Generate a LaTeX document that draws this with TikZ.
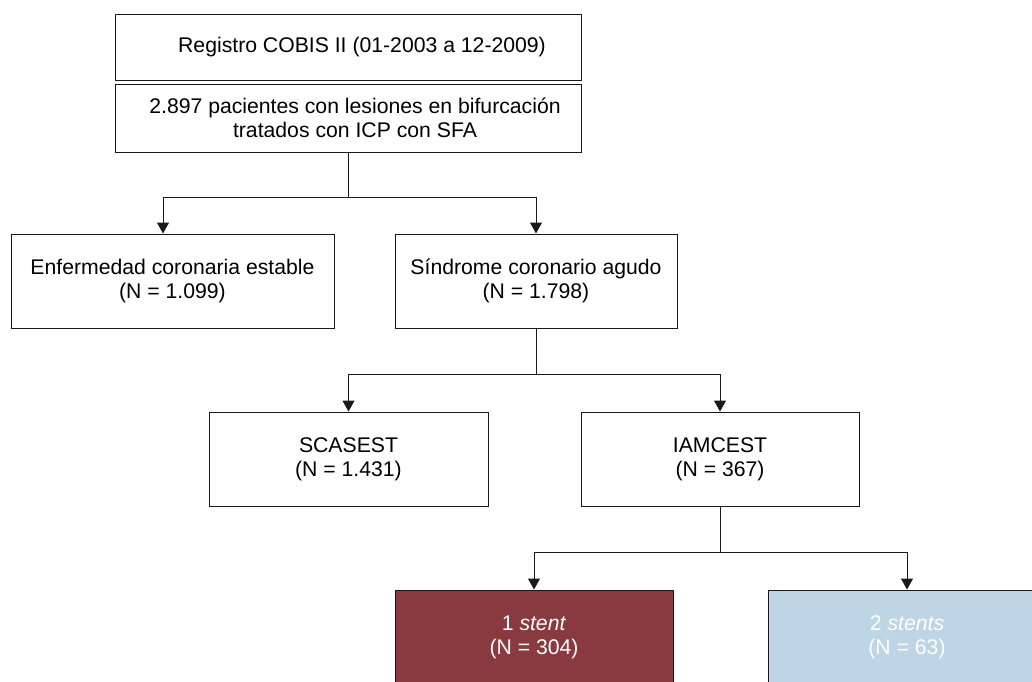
\documentclass[tikz,border=0pt]{standalone}
\usepackage{fontspec}
\setmainfont{Liberation Sans}
\usetikzlibrary{arrows.meta}
\definecolor{stentred}{HTML}{893940}
\definecolor{stentblue}{HTML}{BED5E6}
\tikzset{
    box/.style={draw=black!90, line width=0.5pt, align=center, inner sep=0pt,
        font=\fontsize{10.6}{12}\selectfont},
    link/.style={draw=black!90, line width=0.5pt},
    linkarrow/.style={link, -{Triangle[width=6pt,length=5.5pt]}}
}
\begin{document}
\begin{tikzpicture}[x=0.5pt,y=-0.5pt]
\clip (0,0) rectangle (1032,681);
\node[box, minimum width=233pt, minimum height=33pt] (reg) at (348,47) {\hspace*{14pt}Registro COBIS II (01-2003 a 12-2009)};
\node[box, minimum width=233pt, minimum height=34pt] (pac) at (348,118) {\hspace*{7pt}2.897 pacientes con lesiones en bifurcación\\ \hspace*{7pt}tratados con ICP con SFA};
\node[box, minimum width=161.5pt, minimum height=47pt] (ecs) at (172.5,281) {Enfermedad coronaria estable\\ (N = 1.099)};
\node[box, minimum width=141pt, minimum height=47pt] (sca) at (536,281) {Síndrome coronario agudo\\ (N = 1.798)};
\node[box, minimum width=139.5pt, minimum height=47pt] (scasest) at (348.5,459) {SCASEST\\ (N = 1.431)};
\node[box, minimum width=139pt, minimum height=47pt] (iam) at (720,459) {IAMCEST\\ (N = 367)};
\node[box, fill=stentred, text=white, minimum width=139pt, minimum height=47pt] (one) at (534,637) {1 \textit{stent}\\ (N = 304)};
\node[box, fill=stentblue, text=white, minimum width=139pt, minimum height=47pt] (two) at (907,637) {2 \textit{stents}\\ (N = 63)};
\coordinate (j1) at (348,197);
\coordinate (e1) at (163,197);
\coordinate (j2) at (536,374);
\coordinate (j3) at (720,552);
\draw[link] (pac) -- (j1);
\draw[linkarrow] (j1) -- (e1) -- (e1 |- ecs.north);
\draw[linkarrow] (j1) -| (sca.north);
\draw[link] (sca) -- (j2);
\draw[linkarrow] (j2) -| (scasest.north);
\draw[linkarrow] (j2) -| (iam.north);
\draw[link] (iam) -- (j3);
\draw[linkarrow] (j3) -| (one.north);
\draw[linkarrow] (j3) -| (two.north);
\end{tikzpicture}
\end{document}
